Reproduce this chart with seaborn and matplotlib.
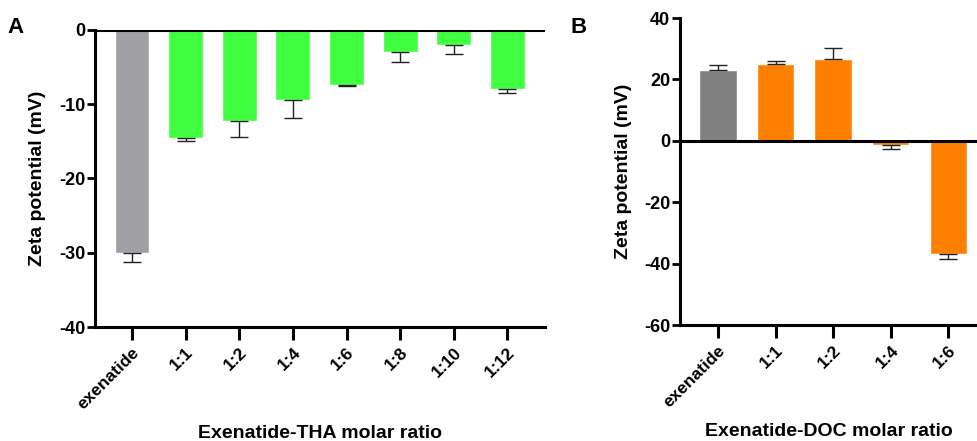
import matplotlib
matplotlib.use("Agg")
import matplotlib.pyplot as plt
import seaborn as sns
import pandas as pd
import numpy as np

sns.set_theme(style="ticks")
plt.rcParams["font.family"] = ["Liberation Sans", "DejaVu Sans"]
plt.rcParams["font.weight"] = "bold"
plt.rcParams["axes.unicode_minus"] = False
for key in ["text.color", "axes.labelcolor", "xtick.color", "ytick.color"]:
    plt.rcParams[key] = "black"

# Panel A: exenatide-THA
tha_ratio = ["exenatide", "1:1", "1:2", "1:4", "1:6", "1:8", "1:10", "1:12"]
tha_zeta = [-30.1, -14.5, -12.2, -9.4, -7.4, -3.0, -2.0, -7.9]
tha_err = [1.2, 0.5, 2.2, 2.4, 0.2, 1.3, 1.2, 0.6]

# Panel B: exenatide-DOC
doc_ratio = ["exenatide", "1:1", "1:2", "1:4", "1:6"]
doc_zeta = [23.0, 25.0, 26.8, -1.3, -36.7]
doc_err = [1.7, 0.9, 3.3, 1.3, 1.8]

GREY_A = "#A0A0A4"
GREEN = "#40FF40"
GREY_B = "#808080"
ORANGE = "#FF8000"


def style_axis(ax, xlabel, yticks, ylim, xlim):
    for side in ["top", "right"]:
        ax.spines[side].set_visible(False)
    for side in ["left", "bottom"]:
        ax.spines[side].set_linewidth(2.2)
        ax.spines[side].set_color("black")
    ax.axhline(0, color="black", lw=2.2, zorder=5)
    ax.set_ylim(*ylim)
    ax.set_xlim(*xlim)
    ax.set_yticks(yticks)
    ax.tick_params(axis="y", length=6, width=2, labelsize=13, pad=1)
    ax.tick_params(axis="x", length=9, width=2.2, labelsize=12.5, pad=4)
    for lab in ax.get_xticklabels():
        lab.set_rotation(45)
        lab.set_ha("right")
        lab.set_rotation_mode("anchor")
        lab.set_fontweight("bold")
    for lab in ax.get_yticklabels():
        lab.set_fontweight("bold")
    ax.set_xlabel(xlabel, fontsize=14, fontweight="bold", labelpad=9)
    ax.set_ylabel("Zeta potential (mV)", fontsize=14, fontweight="bold", labelpad=9)


def draw_panel(ax, ratio, zeta, err, colors):
    df = pd.DataFrame({"ratio": ratio, "zeta": zeta})
    sns.barplot(data=df, x="ratio", y="zeta", hue="ratio", palette=colors,
                legend=False, width=0.65, saturation=1, ax=ax, zorder=2)
    x = np.arange(len(ratio))
    z = np.array(zeta)
    e = np.array(err)
    lower = np.where(z < 0, e, 0)
    upper = np.where(z >= 0, e, 0)
    ax.errorbar(x, z, yerr=[lower, upper], fmt="none", ecolor="#222222",
                elinewidth=1, capsize=6.5, capthick=1, zorder=3)


fig = plt.figure(figsize=(9.77, 4.41), dpi=100)

axA = fig.add_axes([0.0972, 0.2585, 0.4606, 0.6735])
draw_panel(axA, tha_ratio, tha_zeta, tha_err, [GREY_A] + [GREEN] * 7)
style_axis(axA, "Exenatide-THA molar ratio", [0, -10, -20, -30, -40],
           (-40, 0), (-0.69, 7.7))

axB = fig.add_axes([0.696, 0.263, 0.304, 0.696])
draw_panel(axB, doc_ratio, doc_zeta, doc_err, [GREY_B] + [ORANGE] * 4)
style_axis(axB, "Exenatide-DOC molar ratio", [40, 20, 0, -20, -40, -60],
           (-60, 40), (-0.66, 4.5))

fig.text(0.008, 0.925, "A", fontsize=16, fontweight="bold")
fig.text(0.584, 0.925, "B", fontsize=16, fontweight="bold")

fig.savefig("out.png", dpi=100)
